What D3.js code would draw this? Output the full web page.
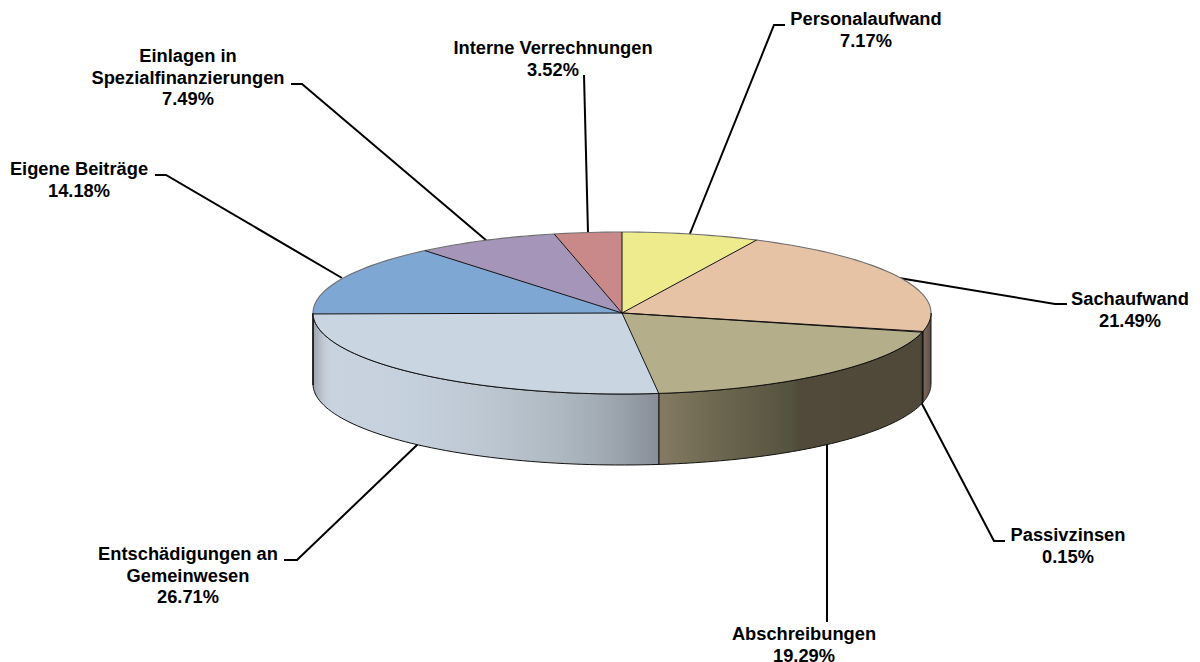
<!DOCTYPE html>
<html><head><meta charset="utf-8">
<script src="https://cdnjs.cloudflare.com/ajax/libs/d3/7.8.5/d3.min.js"></script>
<style>html,body{margin:0;padding:0;background:#fff;overflow:hidden}svg{display:block}
text{font-family:"Liberation Sans",Arial,sans-serif;font-weight:bold;font-size:18.3px;fill:#000}</style>
</head><body><div id="chart"></div>
<script>
const categories=["Personalaufwand","Sachaufwand","Passivzinsen","Abschreibungen","Entschädigungen an Gemeinwesen","Eigene Beiträge","Einlagen in Spezialfinanzierungen","Interne Verrechnungen"];
const values=[7.17,21.49,0.15,19.29,26.71,14.18,7.49,3.52];
const topColors=["#eeeb8c","#e7c3a5","#c9a98a","#b4ae8a","#cad5e2","#7fa7d4","#a595b8","#c98988"];
const labelLines=[["Personalaufwand"],["Sachaufwand"],["Passivzinsen"],["Abschreibungen"],["Entschädigungen an","Gemeinwesen"],["Eigene Beiträge"],["Einlagen in","Spezialfinanzierungen"],["Interne Verrechnungen"]];

// layout
const W=1200,H=662,cx=622,cy=313,rx=309,ry=81,depth=71;
const labelPos=[[866,25],[1130,305],[1068,541],[804,640],[188,560],[79,175],[188,62],[553,54]];
const leaders=[
 [[689,236],[774,25],[785,25]],
 [[899,278],[1055,304],[1067,304]],
 [[921,402],[994,541],[1005,541]],
 [[827,443],[827,622]],
 [[418,444],[297,560],[284,560]],
 [[342,278],[166,175],[155,175]],
 [[487,241],[302,84],[291,84]],
 [[588,233],[584,75]]
];
const sideStops={
 1:[[0,"#7d6a5c"],[1,"#5f5045"]],
 2:[[0,"#5f5045"],[1,"#5f5045"]],
 3:[[0,"#837b62"],[.2,"#6f6951"],[.4,"#5e5a45"],[.5,"#54533f"],[.53,"#514a3a"],[1,"#504939"]],
 4:[[0,"#9da3ab"],[.03,"#c0c8d2"],[.05,"#c9d3df"],[.3,"#c5d0dd"],[.5,"#bcc7d2"],[.7,"#afbac2"],[.85,"#a0a9b1"],[1,"#878e98"]],
 5:[[0,"#6f8fb5"],[1,"#6f8fb5"]]
};

const svg=d3.select("#chart").append("svg").attr("width",W).attr("height",H);
const defs=svg.append("defs");
const arcs=d3.pie().sort(null).startAngle(0).endAngle(2*Math.PI)(values);
const xS=d3.scaleLinear().domain([-1,1]).range([cx-rx,cx+rx]);
const yS=d3.scaleLinear().domain([-1,1]).range([cy-ry,cy+ry]);
const line=d3.line().x(d=>d[0]).y(d=>d[1]);
const rimPoint=t=>[xS(Math.sin(t)),yS(-Math.cos(t))];

// leaders sit under the pie, as in the reference
svg.append("g").selectAll("path").data(leaders).join("path")
 .attr("d",d=>line(d)).attr("fill","none").attr("stroke","#000").attr("stroke-width",2);

// side walls: visible part of each slice between 90deg and 270deg
const lo=Math.PI/2,hi=3*Math.PI/2;
arcs.forEach((a,i)=>{
  const s=Math.max(a.startAngle,lo),e=Math.min(a.endAngle,hi);
  if(e<=s)return;
  const topEdge=d3.range(0,61).map(k=>rimPoint(s+(e-s)*k/60));
  const botEdge=topEdge.map(p=>[p[0],p[1]+depth]).reverse();
  const x0=d3.min(topEdge,p=>p[0]),x1=d3.max(topEdge,p=>p[0]);
  const id="side"+i;
  const lg=defs.append("linearGradient").attr("id",id).attr("gradientUnits","userSpaceOnUse")
    .attr("x1",x0).attr("x2",x1).attr("y1",0).attr("y2",0);
  (sideStops[i]||[[0,topColors[i]],[1,topColors[i]]]).forEach(st=>lg.append("stop").attr("offset",st[0]).attr("stop-color",st[1]));
  svg.append("path").attr("d",line(topEdge.concat(botEdge))+"Z")
    .attr("fill",`url(#${id})`).attr("stroke","#111").attr("stroke-width",1).attr("stroke-linejoin","round");
});

// top faces
const arcGen=d3.arc().innerRadius(0).outerRadius(1);
svg.append("g").attr("transform",`translate(${cx},${cy}) scale(${rx},${ry})`)
 .selectAll("path").data(arcs).join("path")
 .attr("d",arcGen).attr("fill",(d,i)=>topColors[i]);

// back rim (softer) and front rim
const rim=(a,b)=>line(d3.range(0,121).map(k=>rimPoint(a+(b-a)*k/120)));
svg.append("path").attr("d",rim(-Math.PI/2,Math.PI/2)).attr("fill","none").attr("stroke","#6e6e6e").attr("stroke-width",1.1);
svg.append("path").attr("d",rim(Math.PI/2,3*Math.PI/2)).attr("fill","none").attr("stroke","#111").attr("stroke-width",1);

// radial edges
svg.append("g").selectAll("path").data(arcs).join("path")
 .attr("d",d=>line([[xS(0),yS(0)],rimPoint(d.startAngle)]))
 .attr("fill","none").attr("stroke","#111").attr("stroke-width",1);

// labels
const pct=d3.format(".2f");
const lh=21.7;
const g=svg.append("g");
categories.forEach((c,i)=>{
  const lines=labelLines[i].concat(pct(values[i])+"%");
  const t=g.append("text").attr("text-anchor","middle").attr("x",labelPos[i][0]);
  lines.forEach((l,k)=>t.append("tspan").attr("x",labelPos[i][0]).attr("y",labelPos[i][1]+k*lh).text(l));
});
</script></body></html>
